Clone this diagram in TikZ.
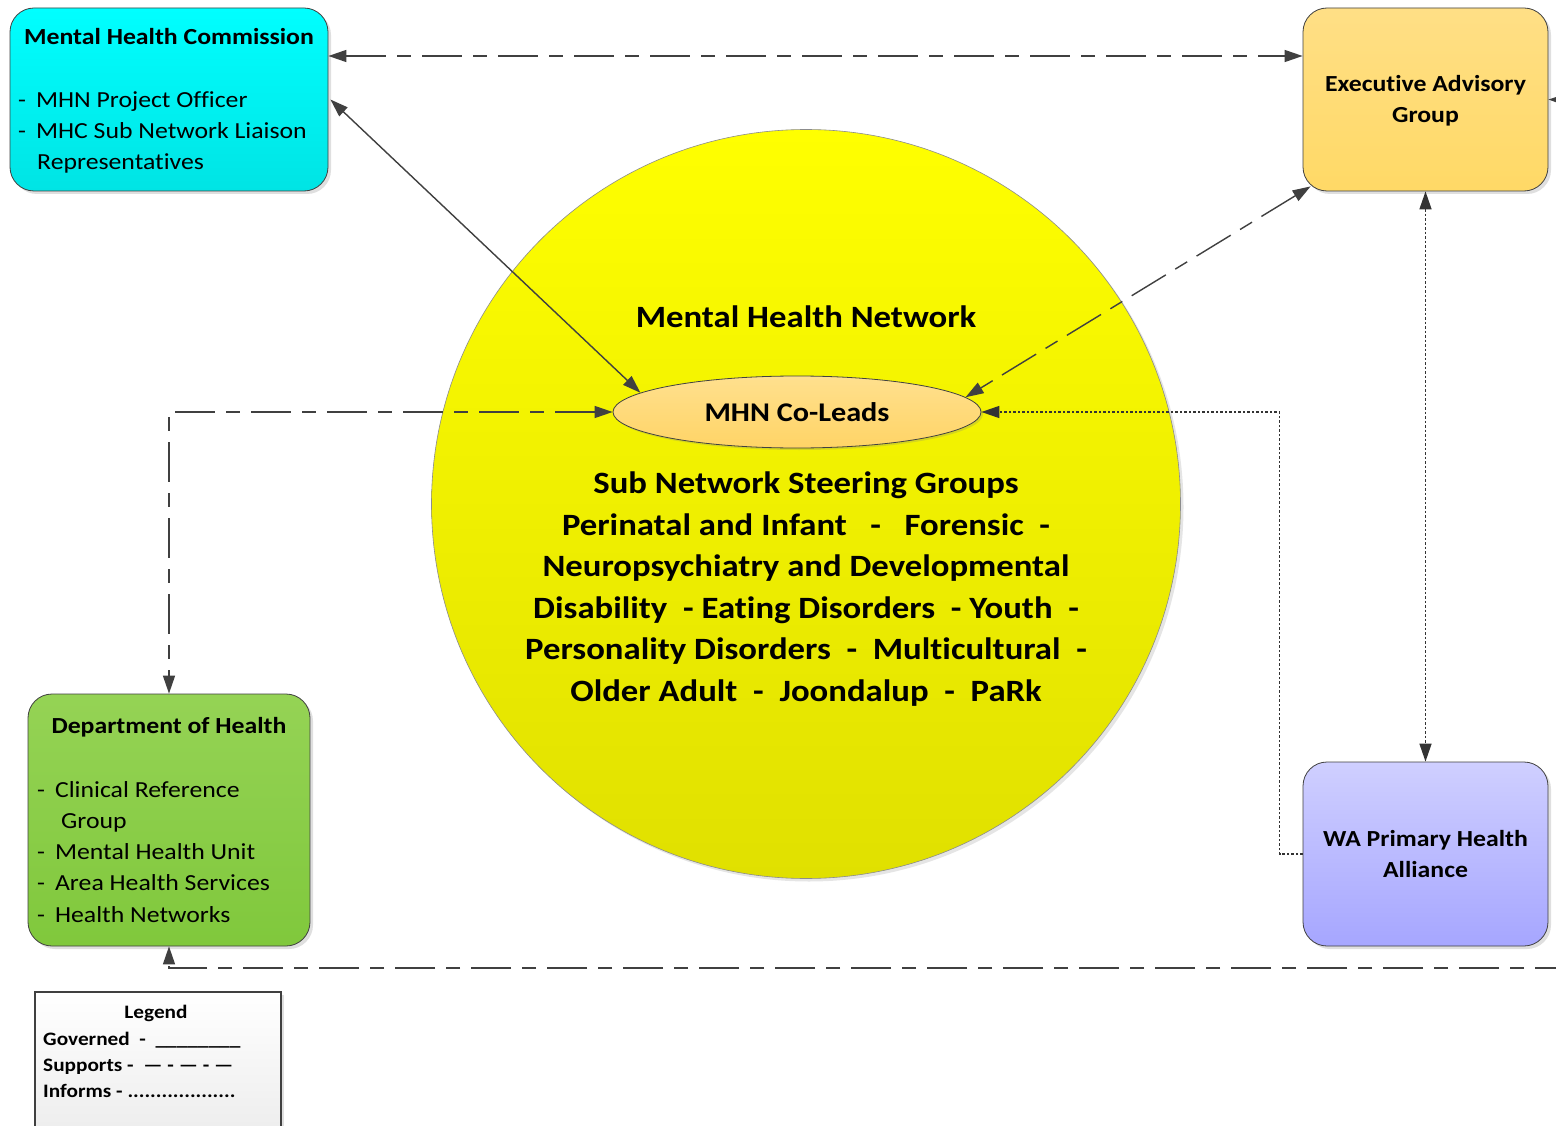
\documentclass[tikz,border=0pt]{standalone}
\usepackage{fontspec}
\setmainfont{Carlito}[FakeStretch=1.12,Ligatures=CommonOff]
\usetikzlibrary{arrows.meta,shadows,calc,shapes.geometric}
\definecolor{cyanT}{HTML}{00FFFF}
\definecolor{cyanB}{HTML}{00E4E4}
\definecolor{eagT}{HTML}{FFDF86}
\definecolor{eagB}{HTML}{FFD966}
\definecolor{waT}{HTML}{CFCFFF}
\definecolor{waB}{HTML}{A6A6FF}
\definecolor{dohT}{HTML}{95D355}
\definecolor{dohB}{HTML}{80C83C}
\definecolor{circT}{HTML}{FFFF00}
\definecolor{circB}{HTML}{E0E000}
\definecolor{ellT}{HTML}{FFE08E}
\definecolor{ellB}{HTML}{FFD466}
\definecolor{lineC}{HTML}{404040}
\begin{document}
\begin{tikzpicture}[x=1pt,y=-1pt,
  box/.style={draw=lineC, line width=0.8pt, rounded corners=24pt, inner sep=0pt,
    drop shadow={opacity=0.25, shadow xshift=3pt, shadow yshift=-3pt}},
  boxtxt/.style={font=\fontsize{23}{31}\selectfont, inner sep=0pt},
  boxtitle/.style={font=\fontsize{23}{31}\selectfont\bfseries, inner sep=0pt},
  tip/.style={{Triangle[length=18pt,width=12pt]}-{Triangle[length=18pt,width=12pt]}},
  endtip/.style={-{Triangle[length=18pt,width=12pt]}},
  govern/.style={draw=lineC, line width=1.4pt},
  support/.style={draw=lineC, line width=1.4pt, dash pattern=on 40pt off 11pt on 14pt off 11pt},
  inform/.style={draw=black!80, line width=1.5pt, dash pattern=on 2.5pt off 2pt},
]
\clip (0,0) rectangle (1556,1126);
\fill[white] (0,0) rectangle (1556,1126);

% central circle
\node[circle, draw=black!45, line width=0.6pt, top color=circT, bottom color=circB,
  minimum size=749pt, inner sep=0pt,
  drop shadow={opacity=0.2, shadow xshift=3pt, shadow yshift=-3pt}] (mhnet) at (806,504) {};
\node[font=\fontsize{31}{40}\selectfont\bfseries, inner sep=0pt] (mhnlabel) at (806,317) {Mental Health Network};
\node[font=\fontsize{31}{41.6}\selectfont\bfseries, align=center, inner sep=0pt] (steer) at (806,589)
 {Sub Network Steering Groups\\
  Perinatal and Infant\ \ \ -\ \ \ Forensic\ \ -\\
  Neuropsychiatry and Developmental\\
  Disability\ \ - Eating Disorders\ \ - Youth\ \ -\\
  Personality Disorders\ \ -\ \ Multicultural\ \ -\\
  Older Adult\ \ -\ \ Joondalup\ \ -\ \ PaRk};

% co-leads ellipse
\node[ellipse, draw=lineC, line width=0.8pt, top color=ellT, bottom color=ellB,
  minimum width=368pt, minimum height=72pt, inner sep=0pt,
  drop shadow={opacity=0.25, shadow xshift=2pt, shadow yshift=-2pt}] (co) at (797,412) {};
\node[font=\fontsize{27}{30}\selectfont\bfseries, inner sep=0pt] (colabel) at (797,412) {MHN Co-Leads};

% Mental Health Commission
\node[box, top color=cyanT, bottom color=cyanB, minimum width=318pt, minimum height=183pt] (mhc) at (169,99.5) {};
\node[boxtitle] (mhct) at (169,37) {Mental Health Commission};
\node[boxtxt, anchor=base west] (mhc1) at (18,108) {-\hspace{10pt}MHN Project Officer};
\node[boxtxt, anchor=base west] (mhc2) at (18,139) {-\hspace{10pt}MHC Sub Network Liaison};
\node[boxtxt, anchor=base west] (mhc3) at (37,170) {Representatives};

% Executive Advisory Group
\node[box, top color=eagT, bottom color=eagB, minimum width=245pt, minimum height=183pt] (eag) at (1425.5,99.5) {};
\node[boxtitle, anchor=base] (eag1) at (1425.5,92) {Executive Advisory};
\node[boxtitle, anchor=base] (eag2) at (1425.5,123) {Group};

% WA Primary Health Alliance
\node[box, top color=waT, bottom color=waB, minimum width=245pt, minimum height=184pt] (wa) at (1425.5,854) {};
\node[boxtitle, anchor=base] (wa1) at (1425.5,846) {WA Primary Health};
\node[boxtitle, anchor=base] (wa2) at (1425.5,877) {Alliance};

% Department of Health
\node[box, top color=dohT, bottom color=dohB, minimum width=282pt, minimum height=252pt] (doh) at (169,820) {};
\node[boxtitle] (doht) at (169,727) {Department of Health};
\node[boxtxt, anchor=base west] (doh1) at (37,797) {-\hspace{10pt}Clinical Reference};
\node[boxtxt, anchor=base west] (doh2) at (61,828) {Group};
\node[boxtxt, anchor=base west] (doh3) at (37,859) {-\hspace{10pt}Mental Health Unit};
\node[boxtxt, anchor=base west] (doh4) at (37,890) {-\hspace{10pt}Area Health Services};
\node[boxtxt, anchor=base west] (doh5) at (37,922) {-\hspace{10pt}Health Networks};

% Legend
\node[draw=lineC, line width=2.2pt, top color=white, bottom color=black!8, anchor=north west,
  minimum width=246pt, minimum height=160pt, inner sep=0pt,
  drop shadow={opacity=0.25, shadow xshift=3pt, shadow yshift=-3pt}] (legend) at (34,991) {};
\node[font=\fontsize{19}{24}\selectfont\bfseries, inner sep=0pt] (legt) at (156,1013) {Legend};
\node[font=\fontsize{19}{24}\selectfont\bfseries, inner sep=0pt, anchor=base west] (leg1) at (43,1045) {Governed\ \ -\ \ \_\_\_\_\_\_\_\_};
\node[font=\fontsize{19}{24}\selectfont\bfseries, inner sep=0pt, anchor=base west] (leg2) at (43,1071) {Supports -\ \ — - — - —};
\node[font=\fontsize{19}{24}\selectfont\bfseries, inner sep=0pt, anchor=base west] (leg3) at (43,1097) {Informs - ...................};

% off-picture end points
\coordinate (offR1) at (1575,100);
\coordinate (offR2) at (1575,968);

% connectors
\draw[support, tip] ([yshift=43.5pt]mhc.east) -- ([yshift=43.5pt]eag.west);
\draw[govern, tip] ([xshift=2pt]mhc.east) -- (co.173);
\draw[support, tip] ([xshift=8pt,yshift=5pt]eag.south west) -- (co.5);
\draw[support, tip] (co.west) -| (doh.north);
\draw[inform, endtip] (wa.west) -- ++(-23,0) |- (co.east);
\draw[inform, tip] (eag.south) -- (wa.north);
\draw[support, endtip] (offR2) -| (doh.south);
\draw[govern, endtip] (offR1) -- (eag.east);
\end{tikzpicture}
\end{document}
